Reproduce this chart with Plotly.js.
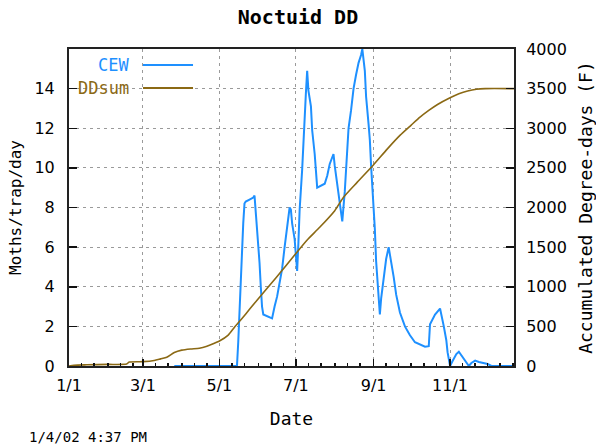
<!DOCTYPE html>
<html><head><meta charset="utf-8">
<script src="https://cdn.plot.ly/plotly-3.0.1.min.js"></script>
<style>html,body{margin:0;padding:0;background:#fff}</style>
</head><body><div id="chart" style="width:596px;height:448px"></div>
<script>
// CEW moth counts (Moths/trap/day), left axis
const cewDates = ['2001-03-26','2001-05-15','2001-05-16','2001-05-17','2001-05-18','2001-05-19','2001-05-20','2001-05-21','2001-05-22','2001-05-25','2001-05-28','2001-05-29','2001-05-30','2001-05-31','2001-06-01','2001-06-02','2001-06-03','2001-06-04','2001-06-05','2001-06-08','2001-06-12','2001-06-14','2001-06-16','2001-06-18','2001-06-20','2001-06-22','2001-06-24','2001-06-26','2001-06-27','2001-06-28','2001-06-30','2001-07-01','2001-07-02','2001-07-03','2001-07-04','2001-07-06','2001-07-07','2001-07-08','2001-07-09','2001-07-10','2001-07-11','2001-07-13','2001-07-14','2001-07-16','2001-07-17','2001-07-18','2001-07-24','2001-07-26','2001-07-28','2001-07-30','2001-07-31','2001-08-01','2001-08-03','2001-08-04','2001-08-06','2001-08-07','2001-08-09','2001-08-10','2001-08-12','2001-08-14','2001-08-16','2001-08-18','2001-08-20','2001-08-22','2001-08-23','2001-08-25','2001-08-26','2001-08-28','2001-08-29','2001-08-30','2001-09-01','2001-09-02','2001-09-03','2001-09-05','2001-09-06','2001-09-07','2001-09-09','2001-09-11','2001-09-13','2001-09-15','2001-09-17','2001-09-19','2001-09-22','2001-09-26','2001-09-30','2001-10-04','2001-10-08','2001-10-12','2001-10-15','2001-10-16','2001-10-20','2001-10-24','2001-10-27','2001-10-29','2001-10-30','2001-11-01','2001-11-03','2001-11-06','2001-11-08','2001-11-11','2001-11-14','2001-11-16','2001-11-18','2001-11-21','2001-11-24','2001-11-28','2001-12-01','2001-12-04','2001-12-22'];
const cewValues = [0,0,1.2,2.8,4.3,5.8,7.2,8.2,8.3,8.4,8.5,8.6,7.8,6.8,5.9,5.2,4.0,3.0,2.6,2.5,2.4,3.0,3.5,4.2,4.9,6.0,6.9,8.0,7.9,7.2,6.4,5.7,4.8,6.2,7.9,9.9,11.5,12.8,13.8,14.9,13.9,13.1,11.9,10.7,9.5,9.0,9.2,9.6,10.2,10.6,10.7,10.1,9.2,8.6,7.6,7.3,8.8,10.0,12.0,12.9,14.0,14.7,15.3,15.7,16.0,14.9,13.6,12.2,11.4,10.1,8.3,6.9,5.3,3.5,2.6,3.4,4.3,5.4,6.0,5.3,4.5,3.6,2.7,2.0,1.55,1.2,1.1,0.97,1.0,2.1,2.6,2.9,2.0,1.3,0.7,0,0.25,0.6,0.72,0.45,0.2,0,0.15,0.27,0.2,0.15,0.1,0,0];

// Accumulated degree-days (F), right axis
const ddDates = ['2001-01-01','2001-01-05','2001-01-15','2001-02-01','2001-02-16','2001-02-18','2001-03-01','2001-03-10','2001-03-15','2001-03-20','2001-03-26','2001-04-01','2001-04-08','2001-04-15','2001-04-21','2001-04-26','2001-05-01','2001-05-08','2001-05-13','2001-05-19','2001-05-25','2001-05-31','2001-06-15','2001-07-01','2001-07-10','2001-07-20','2001-08-01','2001-08-08','2001-08-19','2001-09-01','2001-09-12','2001-09-22','2001-10-01','2001-10-08','2001-10-15','2001-10-22','2001-11-01','2001-11-08','2001-11-15','2001-11-22','2001-11-29','2001-12-22'];
const ddValues = [0,10,15,20,25,50,55,70,90,110,170,200,215,225,250,280,315,390,490,600,715,830,1110,1420,1590,1750,1960,2130,2320,2540,2740,2910,3040,3140,3225,3300,3385,3435,3470,3492,3500,3500];

const xTickVals = ['2001-01-01','2001-03-01','2001-05-01','2001-07-01','2001-09-01','2001-11-01'];
const xTickText = ['1/1','3/1','5/1','7/1','9/1','11/1'];
const leftTicks = [0,2,4,6,8,10,12,14];
const rightTicks = [0,500,1000,1500,2000,2500,3000,3500,4000];

const minorVals = [];
for (let m = 1; m <= 12; m++) {
  for (const d of [1, 11, 21]) {
    minorVals.push('2001-' + String(m).padStart(2,'0') + '-' + String(d).padStart(2,'0'));
  }
}

const CEW_COLOR = '#1e90ff';
const DD_COLOR = '#8b6914';
const MONO = 'DejaVu Sans Mono';
const SANS = 'DejaVu Sans';

const traces = [
  {x: cewDates, y: cewValues, type: 'scatter', mode: 'lines', name: 'CEW',
   line: {color: CEW_COLOR, width: 2}, yaxis: 'y'},
  {x: ddDates, y: ddValues, type: 'scatter', mode: 'lines', name: 'DDsum',
   line: {color: DD_COLOR, width: 1.6, shape: 'spline', smoothing: 0.6}, yaxis: 'y2'}
];

const grid = {gridcolor: '#9a9a9a', gridwidth: 1, griddash: '3px,4px'};

const layout = {
  width: 596, height: 448,
  margin: {l: 69, r: 82, t: 49, b: 82, pad: 0},
  paper_bgcolor: '#fff', plot_bgcolor: '#fff',
  showlegend: false,
  title: {text: 'Noctuid DD', font: {family: MONO, size: 20, weight: 'bold', color: '#000'},
          x: 0.5, xref: 'container', y: 0.962, yref: 'container', yanchor: 'middle'},
  xaxis: Object.assign({
    type: 'date', range: ['2001-01-01', '2001-12-22'],
    tickmode: 'array', tickvals: xTickVals, ticktext: xTickText,
    ticks: 'inside', ticklen: 7, tickwidth: 1.5, tickcolor: '#111',
    showgrid: true, zeroline: false,
    showline: true, mirror: true, linecolor: '#222', linewidth: 2,
    tickfont: {family: SANS, size: 16, color: '#000'},
    ticklabelstandoff: 4,
    title: {text: 'Date', font: {family: MONO, size: 18, color: '#000'}, standoff: 18},
    minor: {tickmode: 'array', tickvals: minorVals, ticks: 'inside', ticklen: 3, tickwidth: 1.5, tickcolor: '#111', showgrid: false}
  }, grid),
  yaxis: Object.assign({
    range: [0, 16], tickmode: 'array', tickvals: leftTicks,
    ticks: 'inside', ticklen: 8, tickwidth: 1.5, tickcolor: '#111',
    showgrid: true, zeroline: false,
    showline: true, mirror: true, linecolor: '#222', linewidth: 2,
    tickfont: {family: SANS, size: 16, color: '#000'},
    ticklabelstandoff: 9,
    title: {text: 'Moths/trap/day', font: {family: MONO, size: 16, color: '#000'}, standoff: 9}
  }, grid),
  yaxis2: {
    overlaying: 'y', side: 'right',
    range: [0, 4000], tickmode: 'array', tickvals: rightTicks,
    ticks: 'inside', ticklen: 8, tickwidth: 1.5, tickcolor: '#111',
    showgrid: false, zeroline: false,
    showline: true, linecolor: '#222', linewidth: 2,
    tickfont: {family: SANS, size: 16, color: '#000'},
    ticklabelstandoff: 7,
    title: {text: 'Accumulated Degree-days (F)', font: {family: MONO, size: 18, color: '#000'}, standoff: 16}
  },
  shapes: [
    {type: 'line', xref: 'paper', yref: 'paper', x0: 0.1663, x1: 0.2787, y0: 0.9495, y1: 0.9495,
     line: {color: CEW_COLOR, width: 2}},
    {type: 'line', xref: 'paper', yref: 'paper', x0: 0.1663, x1: 0.2787, y0: 0.877, y1: 0.877,
     line: {color: DD_COLOR, width: 2}}
  ],
  annotations: [
    {text: 'CEW', xref: 'paper', yref: 'paper', x: 0.1393, y: 0.9495, xanchor: 'right', yanchor: 'middle',
     showarrow: false, font: {family: MONO, size: 17, color: CEW_COLOR}},
    {text: 'DDsum', xref: 'paper', yref: 'paper', x: 0.1393, y: 0.877, xanchor: 'right', yanchor: 'middle',
     showarrow: false, font: {family: MONO, size: 17, color: DD_COLOR}},
    {text: '1/4/02 4:37 PM', xref: 'paper', yref: 'paper', x: -0.0944, y: -0.224, xanchor: 'left', yanchor: 'middle',
     showarrow: false, font: {family: MONO, size: 14, color: '#000'}}
  ]
};

Plotly.newPlot('chart', traces, layout, {displayModeBar: false, staticPlot: true});
</script>
</body></html>
